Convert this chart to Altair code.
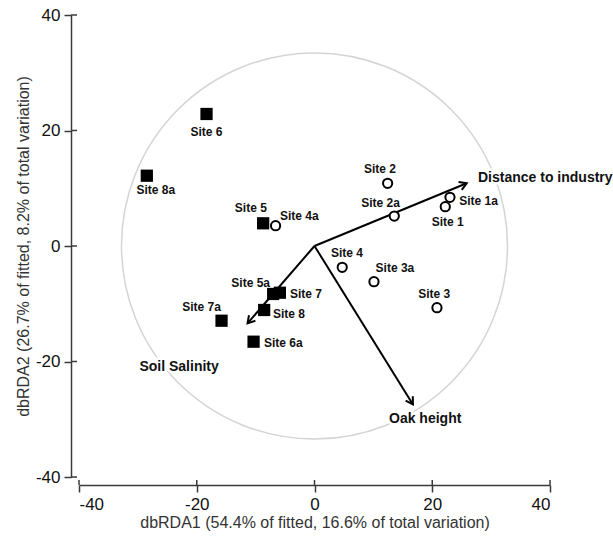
import math
import altair as alt
import pandas as pd

# ---- data ----
sites = ["Site 1", "Site 1a", "Site 2", "Site 2a", "Site 3", "Site 3a", "Site 4", "Site 4a",
         "Site 5", "Site 5a", "Site 6", "Site 6a", "Site 7", "Site 7a", "Site 8", "Site 8a"]
site_x = [22.21, 23.01, 12.42, 13.55, 20.80, 10.10, 4.71, -6.61,
          -8.72, -7.02, -18.34, -10.35, -5.88, -15.79, -8.55, -28.48]
site_y = [6.81, 8.43, 10.86, 5.19, -10.68, -6.18, -3.69, 3.52,
          3.93, -8.31, 22.86, -16.57, -8.09, -12.94, -11.08, 12.17]
site_group = ["circle", "circle", "circle", "circle", "circle", "circle", "circle", "circle",
              "square", "square", "square", "square", "square", "square", "square", "square"]
# label anchor (text centre) in data units
label_x = [22.62, 27.86, 11.11, 11.23, 20.34, 13.66, 5.51, -2.57,
           -10.81, -10.84, -18.34, -5.29, -1.46, -19.19, -4.35, -26.95]
label_y = [4.10, 7.84, 13.33, 7.39, -8.31, -3.81, -1.26, 5.25,
           6.53, -6.36, 19.79, -16.85, -8.31, -10.61, -11.77, 9.70]

vectors = ["Distance to industry", "Soil Salinity", "Oak height"]
vec_x = [25.85, -11.37, 16.72]
vec_y = [10.86, -13.39, -27.43]
vec_label_x = [39.2, -23.0, 18.8]
vec_label_y = [11.72, -21.0, -30.0]

tick_values = [-40, -20, 0, 20, 40]
circle_center_x = [0]
circle_center_y = [0]
circle_radius = 33.1

# ---- layout ----
W, H = 471, 462
sx, sy = W / 80.0, H / 80.0
FONT = "Liberation Sans"

sites_df = pd.DataFrame({"site": sites, "x": site_x, "y": site_y, "group": site_group,
                         "lx": label_x, "ly": label_y})
vec_df = pd.DataFrame({"name": vectors, "vx": vec_x, "vy": vec_y,
                       "lx": vec_label_x, "ly": vec_label_y,
                       "ox": [0] * len(vectors), "oy": [0] * len(vectors)})
vec_df["ang"] = [(math.degrees(math.atan2(a * sx, b * sy)) + 360) % 360 for a, b in zip(vec_x, vec_y)]
ticks_df = pd.DataFrame({"t": tick_values})
circ_df = pd.DataFrame({"cx": circle_center_x, "cy": circle_center_y})

xs = alt.Scale(domain=[-40, 40], nice=False, zero=False)
ys = alt.Scale(domain=[-40, 40], nice=False, zero=False)

axis_common = dict(values=tick_values, grid=False, offset=8, domainColor="#3a3a3a", domainWidth=1.5,
                   tickColor="#3a3a3a", tickWidth=1.5, tickSize=7, labelFont=FONT, labelFontSize=17,
                   labelColor="#111", labelPadding=4, labelExpr="'' + datum.value",
                   titleFont=FONT, titleFontSize=16,
                   titleFontWeight="normal", titleColor="#333")

circle = alt.Chart(circ_df).mark_point(
    shape="circle", filled=False, stroke="#d4d4d4", strokeWidth=1.5, opacity=1,
    size=(2 * circle_radius * (sx + sy) / 2) ** 2
).encode(
    x=alt.X("cx:Q", scale=xs,
            axis=alt.Axis(title="dbRDA1 (54.4% of fitted, 16.6% of total variation)",
                          titlePadding=2, **axis_common)),
    y=alt.Y("cy:Q", scale=ys,
            axis=alt.Axis(title="dbRDA2 (26.7% of fitted, 8.2% of total variation)",
                          titlePadding=4, **axis_common)))

base_pts = alt.Chart(sites_df)
squares = base_pts.transform_filter(alt.datum.group == "square").mark_point(
    shape="square", filled=True, color="black", size=150, opacity=1
).encode(x=alt.X("x:Q", scale=xs), y=alt.Y("y:Q", scale=ys))
circles = base_pts.transform_filter(alt.datum.group == "circle").mark_point(
    shape="circle", filled=True, fill="white", stroke="black", strokeWidth=2, size=85, opacity=1
).encode(x=alt.X("x:Q", scale=xs), y=alt.Y("y:Q", scale=ys))

site_text = base_pts.mark_text(font=FONT, fontWeight="bold", fontSize=12, color="#111",
                               align="center", baseline="middle").encode(
    x=alt.X("lx:Q", scale=xs), y=alt.Y("ly:Q", scale=ys), text="site:N")

arrows = alt.Chart(vec_df).mark_rule(color="black", strokeWidth=2).encode(
    x=alt.X("ox:Q", scale=xs), y=alt.Y("oy:Q", scale=ys), x2="vx:Q", y2="vy:Q")
heads = alt.Chart(vec_df).mark_point(
    shape="M-0.6,1L0,0L0.6,1", filled=False, stroke="black", strokeWidth=2, size=200, opacity=1
).encode(x=alt.X("vx:Q", scale=xs), y=alt.Y("vy:Q", scale=ys), angle=alt.Angle("ang:Q", scale=None))

vec_halo = alt.Chart(vec_df).mark_text(font=FONT, fontWeight="bold", fontSize=14, stroke="white",
                                       strokeWidth=5, color="white", align="center",
                                       baseline="middle").encode(
    x=alt.X("lx:Q", scale=xs), y=alt.Y("ly:Q", scale=ys), text="name:N")
vec_text = alt.Chart(vec_df).mark_text(font=FONT, fontWeight="bold", fontSize=14, color="#111",
                                       align="center", baseline="middle").encode(
    x=alt.X("lx:Q", scale=xs), y=alt.Y("ly:Q", scale=ys), text="name:N")

x_inner = alt.Chart(ticks_df).mark_rule(color="#3a3a3a", strokeWidth=1.5).encode(
    x=alt.X("t:Q", scale=xs), y=alt.value(H + 3), y2=alt.value(H + 8))
y_inner = alt.Chart(ticks_df).mark_rule(color="#3a3a3a", strokeWidth=1.5).encode(
    y=alt.Y("t:Q", scale=ys), x=alt.value(-8), x2=alt.value(-2))

chart = alt.layer(
    circle, squares, arrows, heads, circles, site_text, vec_halo, vec_text, x_inner, y_inner
).properties(
    width=W, height=H,
    padding={"left": 79, "top": 15, "right": 63, "bottom": 59},
    autosize=alt.AutoSizeParams(type="none"),
    background="white",
).configure_view(stroke=None)

chart.save("out.html", embed_options={"renderer": "svg", "actions": False})
